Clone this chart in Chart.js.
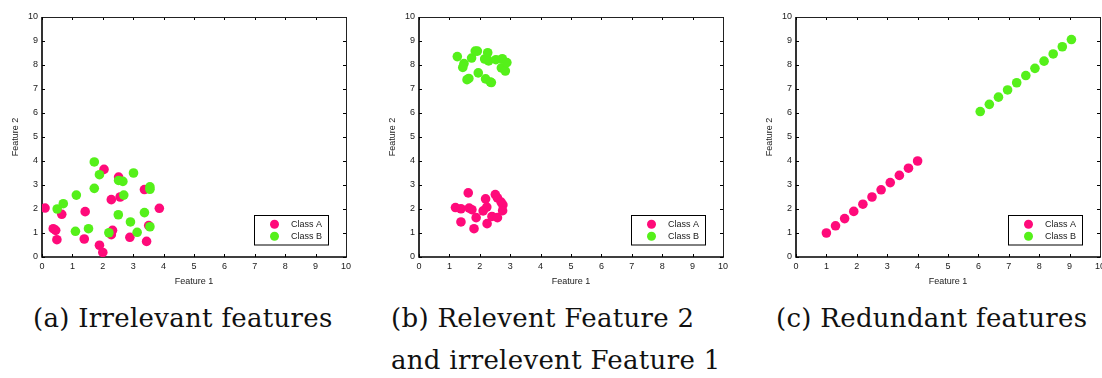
<!DOCTYPE html>
<html>
<head>
<meta charset="utf-8">
<script src="https://cdn.jsdelivr.net/npm/chart.js@4.4.1/dist/chart.umd.min.js"></script>
<style>
  html, body { margin: 0; padding: 0; background: #fff; width: 1102px; height: 378px; overflow: hidden; }
  body { position: relative; }
  .panel { position: absolute; top: 0; width: 360px; height: 300px; }
  .cap { position: absolute; font-family: "DejaVu Serif", "Liberation Serif", serif; font-size: 26px; line-height: 26px; letter-spacing: 0.3px; color: #111; white-space: nowrap; }
</style>
</head>
<body>
<div class="panel" style="left:0px"><canvas id="chartA" width="360" height="300"></canvas></div>
<div class="panel" style="left:377px"><canvas id="chartB" width="360" height="300"></canvas></div>
<div class="panel" style="left:754px"><canvas id="chartC" width="360" height="300"></canvas></div>

<div class="cap" style="left:33px; top:305px">(a) Irrelevant features</div>
<div class="cap" style="left:391px; top:305px">(b) Relevent Feature 2</div>
<div class="cap" style="left:391px; top:347px">and irrelevent Feature 1</div>
<div class="cap" style="left:776px; top:305px">(c) Redundant features</div>

<script>
// Axis ticks shared by all three panels
const axisTicks = [0, 1, 2, 3, 4, 5, 6, 7, 8, 9, 10];
const seriesNames = ['Class A', 'Class B'];
const colorA = '#ff0a7a';
const colorB = '#55f01a';

// (a) both features irrelevant
const irrA_x = [0.10, 0.37, 0.45, 0.49, 0.65, 1.42, 1.39, 1.89, 2.00, 2.04, 2.28, 2.32, 2.28, 2.52, 2.57, 2.89, 3.37, 3.51, 3.44, 3.86];
const irrA_y = [2.04, 1.18, 1.11, 0.72, 1.78, 1.89, 0.75, 0.49, 0.19, 3.65, 2.39, 1.11, 0.93, 3.33, 2.50, 0.82, 2.81, 1.31, 0.65, 2.03];
const irrB_x = [0.50, 0.70, 1.13, 1.10, 1.53, 1.72, 1.72, 1.89, 2.20, 2.52, 2.66, 2.69, 2.51, 2.91, 3.01, 3.13, 3.37, 3.55, 3.55, 3.55];
const irrB_y = [2.00, 2.22, 2.58, 1.07, 1.18, 3.96, 2.86, 3.43, 1.01, 3.19, 3.15, 2.58, 1.76, 1.46, 3.50, 1.03, 1.85, 2.92, 2.82, 1.26];

// (b) feature 2 separates the classes, feature 1 does not
const relA_x = [1.20, 1.38, 1.38, 1.62, 1.65, 1.74, 1.88, 1.81, 2.11, 2.19, 2.23, 2.24, 2.40, 2.51, 2.58, 2.58, 2.70, 2.76, 2.75];
const relA_y = [2.06, 2.01, 1.46, 2.67, 2.04, 1.97, 1.64, 1.18, 1.92, 2.42, 2.08, 1.39, 1.69, 2.60, 2.46, 1.64, 2.29, 2.17, 1.93];
const relB_x = [1.26, 1.48, 1.44, 1.73, 1.64, 1.58, 1.85, 1.92, 1.95, 2.16, 2.26, 2.29, 2.19, 2.35, 2.53, 2.74, 2.71, 2.84, 2.89, 2.38];
const relB_y = [8.35, 8.06, 7.90, 8.29, 7.44, 7.39, 8.58, 8.58, 7.67, 8.25, 8.51, 8.17, 7.42, 7.29, 8.22, 8.26, 7.88, 7.75, 8.10, 7.27];

// (c) feature 2 duplicates feature 1
const redA_x = [1.0, 1.3, 1.6, 1.9, 2.2, 2.5, 2.8, 3.1, 3.4, 3.7, 4.0];
const redA_y = [1.0, 1.3, 1.6, 1.9, 2.2, 2.5, 2.8, 3.1, 3.4, 3.7, 4.0];
const redB_x = [6.06, 6.36, 6.66, 6.96, 7.26, 7.56, 7.86, 8.16, 8.46, 8.76, 9.06];
const redB_y = [6.06, 6.36, 6.66, 6.96, 7.26, 7.56, 7.86, 8.16, 8.46, 8.76, 9.06];

const toPoints = (xs, ys) => xs.map((v, i) => ({ x: v, y: ys[i] }));

const tickFont = { family: '"Liberation Sans", Arial, sans-serif', size: 9 };
const inkColor = '#1a1a1a';

// Inward tick marks on all four sides plus the axes box
const boxPlugin = {
  id: 'axesBox',
  beforeDatasetsDraw(chart) {
    const { ctx, chartArea: a, scales: { x, y } } = chart;
    const len = 3;
    ctx.save();
    ctx.strokeStyle = '#000';
    ctx.lineWidth = 1;
    ctx.beginPath();
    x.ticks.forEach(t => {
      const px = Math.round(x.getPixelForValue(t.value)) + 0.5;
      ctx.moveTo(px, a.bottom); ctx.lineTo(px, a.bottom - len);
      ctx.moveTo(px, a.top); ctx.lineTo(px, a.top + len);
    });
    y.ticks.forEach(t => {
      const py = Math.round(y.getPixelForValue(t.value)) + 0.5;
      ctx.moveTo(a.left, py); ctx.lineTo(a.left + len, py);
      ctx.moveTo(a.right, py); ctx.lineTo(a.right - len, py);
    });
    ctx.stroke();
    // top and right edges
    ctx.lineWidth = 1;
    ctx.strokeStyle = '#222';
    ctx.beginPath();
    ctx.moveTo(Math.round(a.left), Math.round(a.top) + 0.5);
    ctx.lineTo(Math.round(a.right) + 0.5, Math.round(a.top) + 0.5);
    ctx.lineTo(Math.round(a.right) + 0.5, Math.round(a.bottom));
    ctx.stroke();
    // left and bottom axes, heavier
    ctx.lineWidth = 1.6;
    ctx.strokeStyle = '#000';
    ctx.beginPath();
    ctx.moveTo(Math.round(a.left), Math.round(a.top));
    ctx.lineTo(Math.round(a.left), Math.round(a.bottom));
    ctx.lineTo(Math.round(a.right) + 1, Math.round(a.bottom));
    ctx.stroke();
    ctx.restore();
  }
};

// Boxed legend in the lower-right corner of the plot area
const legendPlugin = {
  id: 'cornerLegend',
  afterDatasetsDraw(chart) {
    const { ctx, chartArea: a } = chart;
    const w = 74, h = 29.5;
    const bx = Math.round(a.right - 18 - w) + 0.5;
    const by = Math.round(a.bottom - 13 - h) + 0.5;
    ctx.save();
    ctx.fillStyle = '#fff';
    ctx.fillRect(bx, by, w, h);
    ctx.strokeStyle = '#000';
    ctx.lineWidth = 1;
    ctx.strokeRect(bx, by, w, h);
    ctx.font = `${tickFont.size}px ${tickFont.family}`;
    ctx.textBaseline = 'middle';
    ctx.textAlign = 'left';
    chart.data.datasets.forEach((ds, i) => {
      const cy = by + 8.7 + i * 12;
      ctx.fillStyle = ds.backgroundColor;
      ctx.beginPath();
      ctx.arc(bx + 20, cy, 4.5, 0, Math.PI * 2);
      ctx.fill();
      ctx.fillStyle = inkColor;
      ctx.fillText(ds.label, bx + 36.5, cy + 0.5);
    });
    ctx.restore();
  }
};

function makeChart(id, aX, aY, bX, bY) {
  return new Chart(document.getElementById(id), {
    type: 'scatter',
    data: {
      datasets: [
        { label: seriesNames[0], data: toPoints(aX, aY), backgroundColor: colorA, borderWidth: 0, pointRadius: 4.8, order: 2 },
        { label: seriesNames[1], data: toPoints(bX, bY), backgroundColor: colorB, borderWidth: 0, pointRadius: 4.8, order: 1 }
      ]
    },
    options: {
      responsive: false,
      animation: false,
      events: [],
      layout: { padding: { top: 17, right: 14, left: 0, bottom: 0 } },
      plugins: { legend: { display: false }, tooltip: { enabled: false } },
      scales: {
        x: {
          type: 'linear', min: 0, max: 10,
          afterBuildTicks: s => { s.ticks = axisTicks.map(v => ({ value: v })); },
          afterFit: s => { s.height = 43; },
          grid: { display: false, drawTicks: false },
          border: { display: false },
          ticks: { font: tickFont, color: inkColor, padding: 4, autoSkip: false, maxRotation: 0 },
          title: { display: true, text: 'Feature 1', font: tickFont, color: inkColor, padding: { top: 0, bottom: 13 } }
        },
        y: {
          type: 'linear', min: 0, max: 10,
          afterBuildTicks: s => { s.ticks = axisTicks.map(v => ({ value: v })); },
          afterFit: s => { s.width = 42; },
          grid: { display: false, drawTicks: false },
          border: { display: false },
          ticks: { font: tickFont, color: inkColor, padding: 4, autoSkip: false },
          title: { display: true, text: 'Feature 2', font: tickFont, color: inkColor, padding: { top: 10.6, bottom: 0 } }
        }
      }
    },
    plugins: [boxPlugin, legendPlugin]
  });
}

makeChart('chartA', irrA_x, irrA_y, irrB_x, irrB_y);
makeChart('chartB', relA_x, relA_y, relB_x, relB_y);
makeChart('chartC', redA_x, redA_y, redB_x, redB_y);
</script>
</body>
</html>
